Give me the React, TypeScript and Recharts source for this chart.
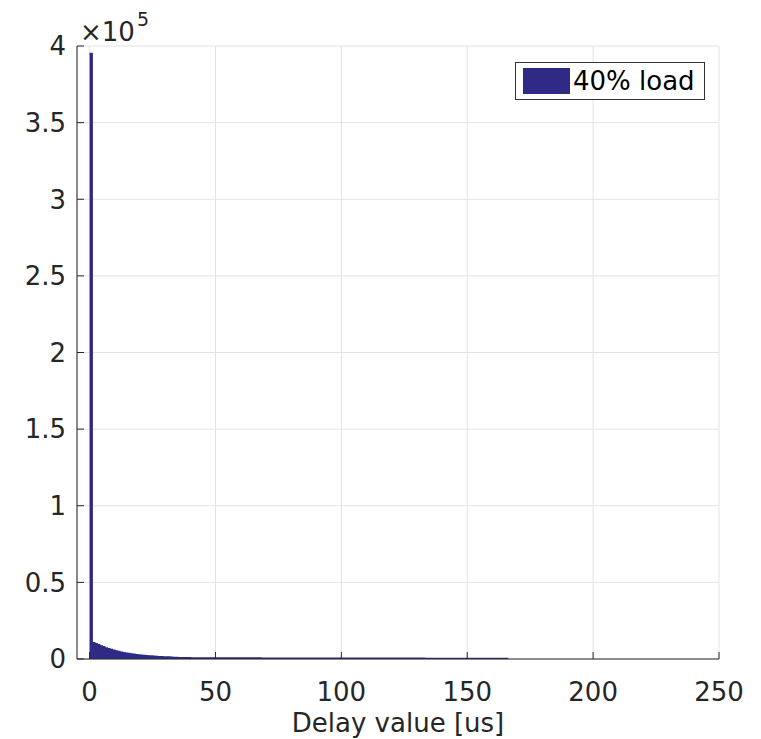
import { Area, CartesianGrid, ComposedChart, XAxis, YAxis } from "recharts";

// histogram counts, 1 us bins starting at 0
const binWidth = 1;
const binCounts = [
  395000, 10600, 9900, 9200, 8500, 7900, 7200, 6700, 6200, 5700,
  5200, 4800, 4450, 4100, 3800, 3550, 3300, 3050, 2800, 2600,
  2450, 2300, 2150, 2000, 1850, 1700, 1600, 1500, 1420, 1350,
  1280, 1200, 1100, 950, 880, 820, 780, 760, 740, 715,
  700, 690, 675, 670, 655, 650, 640, 632, 625, 618,
  612, 610, 604, 600, 590, 592, 585, 578, 575, 566,
  565, 558, 555, 548, 546, 545, 540, 541, 536, 533,
  530, 528, 526, 525, 520, 521, 518, 512, 514, 510,
  506, 505, 500, 502, 498, 495, 490, 492, 488, 485,
  482, 484, 478, 476, 472, 470, 474, 468, 466, 470,
  468, 472, 466, 470, 465, 468, 462, 466, 460, 463,
  458, 461, 456, 458, 452, 455, 450, 448, 452, 445,
  448, 442, 440, 436, 432, 425, 420, 412, 405, 398,
  390, 384, 378, 372, 368, 362, 356, 352, 348, 344,
  340, 336, 332, 330, 326, 322, 320, 318, 314, 312,
  308, 305, 303, 300, 298, 295, 292, 290, 288, 286,
  285, 283, 281, 280, 278, 276,
];
const xTicks = [0, 50, 100, 150, 200, 250];
const yTicks = [0, 50000, 100000, 150000, 200000, 250000, 300000, 350000, 400000];
const seriesName = "40% load";

const data = [
  ...binCounts.map((count, i) => ({ delay: i * binWidth, count })),
  { delay: binCounts.length * binWidth, count: 0 },
];

const barColor = "#2e2a85";
const axisColor = "#262626";
const font = "'DejaVu Sans', sans-serif";
const fontSize = 26;
const tickLen = 7;

const BottomTick = (props: any) => {
  const { x, y, payload } = props;
  return (
    <g>
      <line x1={x} y1={y} x2={x} y2={y - tickLen} stroke={axisColor} />
      <text x={x} y={y + 42} textAnchor="middle" fill={axisColor} fontSize={fontSize} fontFamily={font}>
        {payload.value}
      </text>
    </g>
  );
};

const TopTick = (props: any) => {
  const { x, y } = props;
  return <line x1={x} y1={y} x2={x} y2={y + tickLen} stroke={axisColor} />;
};

const LeftTick = (props: any) => {
  const { x, y, payload } = props;
  return (
    <g>
      <line x1={x} y1={y} x2={x + tickLen} y2={y} stroke={axisColor} />
      <text x={x - 11} y={y} dy="0.36em" textAnchor="end" fill={axisColor} fontSize={fontSize} fontFamily={font}>
        {payload.value / 100000}
      </text>
    </g>
  );
};

const RightTick = (props: any) => {
  const { x, y } = props;
  return <line x1={x} y1={y} x2={x - tickLen} y2={y} stroke={axisColor} />;
};

export default function App() {
  return (
    <div style={{ position: "absolute", left: 0, top: 0, width: 761, height: 739, background: "#fff" }}>
      <ComposedChart
        width={761}
        height={739}
        data={data}
        margin={{ top: 46, right: 42, left: 0, bottom: 0 }}
      >
        <CartesianGrid xAxisId="b" yAxisId="l" stroke="#e3e3e3" />
        <XAxis
          xAxisId="b"
          dataKey="delay"
          type="number"
          domain={[-5, 250]}
          ticks={xTicks}
          allowDataOverflow
          height={80}
          tickSize={0}
          tickMargin={0}
          tickLine={false}
          tick={<BottomTick />}
          stroke={axisColor}
          label={{
            value: "Delay value [us]",
            position: "insideBottom",
            offset: 7,
            fill: axisColor,
            fontSize: 26,
            fontFamily: font,
          }}
        />
        <XAxis
          xAxisId="t"
          orientation="top"
          dataKey="delay"
          type="number"
          domain={[-5, 250]}
          ticks={xTicks}
          allowDataOverflow
          height={0}
          tickSize={0}
          tickMargin={0}
          tickLine={false}
          tick={<TopTick />}
          stroke={axisColor}
        />
        <YAxis
          yAxisId="l"
          type="number"
          domain={[0, 400000]}
          ticks={yTicks}
          allowDataOverflow
          width={77}
          tickSize={0}
          tickMargin={0}
          tickLine={false}
          tick={<LeftTick />}
          stroke={axisColor}
        />
        <YAxis
          yAxisId="r"
          orientation="right"
          type="number"
          domain={[0, 400000]}
          ticks={yTicks}
          allowDataOverflow
          width={0}
          tickSize={0}
          tickMargin={0}
          tickLine={false}
          tick={<RightTick />}
          stroke={axisColor}
        />
        <Area
          xAxisId="b"
          yAxisId="l"
          type="stepAfter"
          dataKey="count"
          name={seriesName}
          fill={barColor}
          fillOpacity={1}
          stroke={barColor}
          strokeWidth={1.6}
          dot={false}
          activeDot={false}
          isAnimationActive={false}
        />
      </ComposedChart>

      {/* exponent label */}
      <svg width={200} height={50} style={{ position: "absolute", left: 0, top: 0, pointerEvents: "none" }}>
        <text x={80} y={41} fill={axisColor} fontSize={26} fontFamily={font}>
          ×10
        </text>
        <text x={137} y={26} fill={axisColor} fontSize={19} fontFamily={font}>
          5
        </text>
      </svg>

      {/* legend */}
      <div
        style={{
          position: "absolute",
          left: 515,
          top: 62,
          width: 190,
          height: 38,
          border: "1px solid #333",
          background: "#fff",
          display: "flex",
          alignItems: "center",
          boxSizing: "border-box",
          fontFamily: font,
          fontSize: 26,
          color: "#000",
        }}
      >
        <span style={{ display: "inline-block", width: 47, height: 26, background: barColor, marginLeft: 7, marginRight: 3 }} />
        <span>{seriesName}</span>
      </div>
    </div>
  );
}
